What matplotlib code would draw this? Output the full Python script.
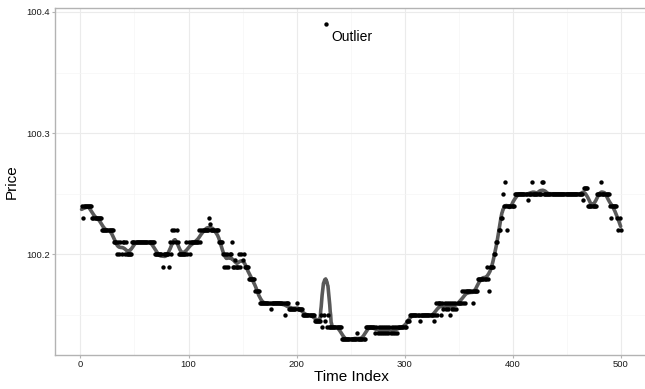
import numpy as np
import matplotlib
matplotlib.use("Agg")
import matplotlib.pyplot as plt
from matplotlib.ticker import MultipleLocator

plt.rcParams["font.family"] = ["Liberation Sans", "DejaVu Sans"]

# price series as runs: index where each run starts, price in hundredths above 100
run_start = [
    1, 2, 3, 11, 20, 31, 34, 35, 36, 37, 38, 39, 41, 42, 43, 48, 69, 76, 77, 82,
    83, 84, 85, 86, 87, 88, 89, 90, 91, 98, 99, 100, 101, 102, 110, 111, 112, 119, 120, 121,
    128, 132, 133, 134, 135, 136, 137, 138, 140, 141, 143, 144, 147, 148, 149, 150, 151, 152, 156, 162,
    166, 176, 177, 189, 190, 193, 200, 201, 206, 217, 223, 224, 225, 226, 227, 228, 229, 230, 242, 256,
    257, 264, 273, 274, 275, 276, 277, 278, 279, 280, 281, 282, 283, 284, 285, 286, 287, 288, 289, 290,
    291, 292, 293, 294, 302, 305, 314, 315, 327, 328, 329, 330, 331, 334, 335, 336, 337, 338, 339, 340,
    341, 342, 343, 344, 345, 346, 347, 348, 349, 353, 354, 355, 356, 357, 363, 364, 368, 376, 377, 378,
    379, 383, 385, 387, 389, 391, 392, 393, 394, 395, 396, 402, 414, 415, 418, 419, 427, 429, 465, 466,
    470, 478, 482, 483, 490, 491, 492, 497, 498, 499, 500,
]
run_cents = [
    24, 23, 24, 23, 22, 21, 20, 21, 20, 21, 20, 21, 20, 21, 20, 21, 20, 19, 20, 19,
    21, 20, 22, 21, 22, 21, 22, 21, 20, 21, 20, 21, 20, 21, 22, 21, 22, 23, 22.5, 22,
    21, 20, 19, 20, 19, 20, 19, 20, 21, 19, 19.5, 19, 20, 19, 20, 19.5, 20, 19, 18, 17,
    16, 15.5, 16, 15, 16, 15.5, 16, 15.5, 15, 14.5, 15, 14, 15, 14.5, 39, 14, 15, 14, 13, 13.5,
    13, 14, 13.5, 14, 13.5, 14, 13.5, 14, 13.5, 14, 13.5, 14, 13.5, 14, 13.5, 14, 13.5, 14, 13.5, 14,
    13.5, 14, 13.5, 14, 14.5, 15, 14.5, 15, 14.5, 15, 16, 15, 16, 15, 16, 15.5, 16, 15.5, 16, 15.5,
    16, 15, 16, 15.5, 16, 15.5, 16, 15.5, 16, 17, 16, 17, 16, 17, 16, 17, 18, 19, 18, 17,
    19, 20, 21, 22, 23, 25, 24, 26, 24, 22, 24, 25, 24.5, 25, 26, 25, 26, 25, 24.5, 25.5,
    24, 25, 26, 25, 24, 23, 24, 23, 22, 23, 22,
]
n_points = 500
outlier_index = 227

lengths = np.diff(run_start + [n_points + 1])
index = np.arange(1, n_points + 1)
price = 100 + np.repeat(run_cents, lengths) / 100


def loess(x, y, grid, q=13):
    # local linear fit with tricube weights over the q nearest points
    fit = np.empty(len(grid))
    for i, x0 in enumerate(grid):
        d = np.abs(x - x0)
        h = np.sort(d)[q - 1] + 1e-9
        w = np.clip(1 - (d / h) ** 3, 0, None) ** 3
        sw = w.sum()
        mx = (w * x).sum() / sw
        my = (w * y).sum() / sw
        b = (w * (x - mx) * (y - my)).sum() / (w * (x - mx) ** 2).sum()
        fit[i] = my + b * (x0 - mx)
    return fit


grid = np.linspace(1, n_points, 1200)
smooth = loess(index.astype(float), price, grid)

fig = plt.figure(figsize=(6.45, 3.89), dpi=100)
ax = fig.add_axes([54.6 / 645, 34 / 389, 593 / 645, 346.7 / 389])

ax.plot(grid, smooth, color="#595959", linewidth=2.6, zorder=3, solid_capstyle="round")
ax.scatter(index, price, s=10, color="black", linewidths=0, zorder=4)
ax.annotate("Outlier", xy=(outlier_index, price[outlier_index - 1]), xytext=(4, -4.5),
            textcoords="offset points", ha="left", va="top", fontsize=10, color="black")

x_pad = 0.05 * (index.max() - index.min())
y_pad = 0.05 * (price.max() - price.min())
ax.set_xlim(index.min() - x_pad, index.max() + x_pad)
ax.set_ylim(price.min() - y_pad, price.max() + y_pad)

ax.xaxis.set_major_locator(MultipleLocator(100))
ax.xaxis.set_minor_locator(MultipleLocator(50))
ax.yaxis.set_major_locator(MultipleLocator(0.1))
ax.yaxis.set_minor_locator(MultipleLocator(0.05))
ax.yaxis.set_major_formatter(lambda v, p: f"{v:.1f}")

ax.grid(which="major", color="#ebebeb", linewidth=0.8)
ax.grid(which="minor", color="#f5f5f5", linewidth=0.5)
ax.set_axisbelow(True)
for spine in ax.spines.values():
    spine.set_color("#b3b3b3")
    spine.set_linewidth(1.0)

ax.tick_params(which="major", length=2, width=0.8, color="#b3b3b3", pad=1.6,
               labelsize=6.8, labelcolor="#1a1a1a")
ax.tick_params(which="minor", length=0)

ax.set_xlabel("Time Index", fontsize=11, labelpad=1)
ax.set_ylabel("Price", fontsize=11, labelpad=5)

fig.savefig("out.png", dpi=100)
